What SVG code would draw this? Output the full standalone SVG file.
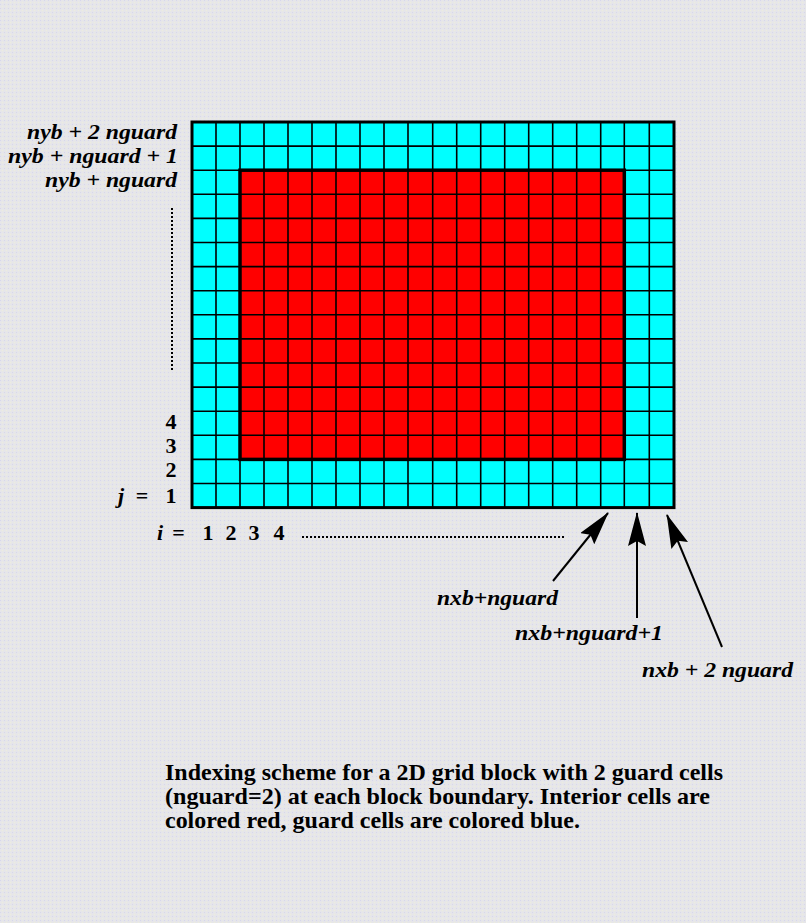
<svg xmlns="http://www.w3.org/2000/svg" width="806" height="923" viewBox="0 0 806 923">
<style>
.lbl{font-family:"Liberation Serif","Times New Roman",serif;font-weight:bold;font-style:italic;font-size:22px;fill:#000}
.num{font-family:"Liberation Serif","Times New Roman",serif;font-weight:bold;font-size:22px;fill:#000}
.cap{font-family:"Liberation Serif","Times New Roman",serif;font-weight:bold;font-size:23px;fill:#000}
.dots{stroke:#000;stroke-width:2;stroke-dasharray:2 2;fill:none}
.arr{stroke:#000;stroke-width:2;fill:none;marker-end:url(#head)}
</style>
<defs>
<marker id="head" viewBox="0 0 34 18" refX="33" refY="9" markerWidth="34" markerHeight="18" markerUnits="userSpaceOnUse" orient="auto">
<path d="M0,0 L34,9 L0,18 L5,9 z" fill="#000"/>
</marker>
<pattern id="bg" width="4" height="4" patternUnits="userSpaceOnUse">
<rect width="4" height="4" fill="#e6e6e9"/>
<rect x="0" y="0" width="1" height="1" fill="#d6d6ee"/>
<rect x="2" y="2" width="1" height="1" fill="#eeeedb"/>
</pattern>
</defs>
<rect x="0" y="0" width="806" height="923" fill="url(#bg)"/>
<g id="grid">
<rect x="192" y="122" width="482" height="385.6" fill="#00ffff"/>
<rect x="240" y="170.2" width="384.3" height="289.2" fill="#ff0000"/>
<path fill="none" stroke="#000" stroke-width="1.6" d="M216,122V507.6M240,122V507.6M264,122V507.6M288,122V507.6M312,122V507.6M336,122V507.6M360,122V507.6M384,122V507.6M408,122V507.6M432.7,122V507.6M456.7,122V507.6M480.7,122V507.6M504.7,122V507.6M528.7,122V507.6M552.7,122V507.6M576.7,122V507.6M600.7,122V507.6M624.3,122V507.6M649.3,122V507.6
M192,146.1H674M192,170.2H674M192,194.3H674M192,218.4H674M192,242.5H674M192,266.6H674M192,290.7H674M192,314.8H674M192,338.9H674M192,363H674M192,387.1H674M192,411.2H674M192,435.3H674M192,459.4H674M192,483.5H674"/>
<rect x="240" y="170.2" width="384.3" height="289.2" fill="none" stroke="#000" stroke-width="3.5"/>
<rect x="192" y="122" width="482" height="385.6" fill="none" stroke="#000" stroke-width="3"/>
</g>
<g id="labels-j">
<text class="lbl" x="27" y="139" textLength="150" lengthAdjust="spacingAndGlyphs">nyb + 2 nguard</text>
<text class="lbl" x="8" y="163" textLength="170" lengthAdjust="spacingAndGlyphs">nyb + nguard + 1</text>
<text class="lbl" x="45" y="187" textLength="132" lengthAdjust="spacingAndGlyphs">nyb + nguard</text>
<line class="dots" x1="172" y1="208" x2="172" y2="370"/>
<text class="num" x="171" y="429" text-anchor="middle">4</text>
<text class="num" x="171" y="453" text-anchor="middle">3</text>
<text class="num" x="171" y="477" text-anchor="middle">2</text>
<text class="num" x="171" y="503" text-anchor="middle">1</text>
<text class="lbl" x="118" y="503">j</text>
<text class="num" x="142" y="503" text-anchor="middle">=</text>
</g>
<g id="labels-i">
<text class="lbl" x="157" y="540">i</text>
<text class="num" x="178.5" y="540" text-anchor="middle">=</text>
<text class="num" x="208" y="540" text-anchor="middle">1</text>
<text class="num" x="231" y="540" text-anchor="middle">2</text>
<text class="num" x="254" y="540" text-anchor="middle">3</text>
<text class="num" x="279" y="540" text-anchor="middle">4</text>
<line class="dots" x1="302" y1="537" x2="566" y2="537"/>
</g>
<g id="connectors">
<line class="arr" x1="553" y1="581" x2="608" y2="513"/>
<line class="arr" x1="637" y1="618" x2="637" y2="513"/>
<line class="arr" x1="722" y1="647" x2="667" y2="515"/>
</g>
<g id="labels-nx">
<text class="lbl" x="437" y="605" textLength="121" lengthAdjust="spacingAndGlyphs">nxb+nguard</text>
<text class="lbl" x="515" y="640" textLength="148" lengthAdjust="spacingAndGlyphs">nxb+nguard+1</text>
<text class="lbl" x="642" y="677" textLength="151" lengthAdjust="spacingAndGlyphs">nxb + 2 nguard</text>
</g>
<g id="caption">
<text class="cap" x="165" y="780" textLength="558" lengthAdjust="spacingAndGlyphs">Indexing scheme for a 2D grid block with 2 guard cells</text>
<text class="cap" x="165" y="804" textLength="545" lengthAdjust="spacingAndGlyphs">(nguard=2) at each block boundary. Interior cells are</text>
<text class="cap" x="165" y="828" textLength="415" lengthAdjust="spacingAndGlyphs">colored red, guard cells are colored blue.</text>
</g>
</svg>
